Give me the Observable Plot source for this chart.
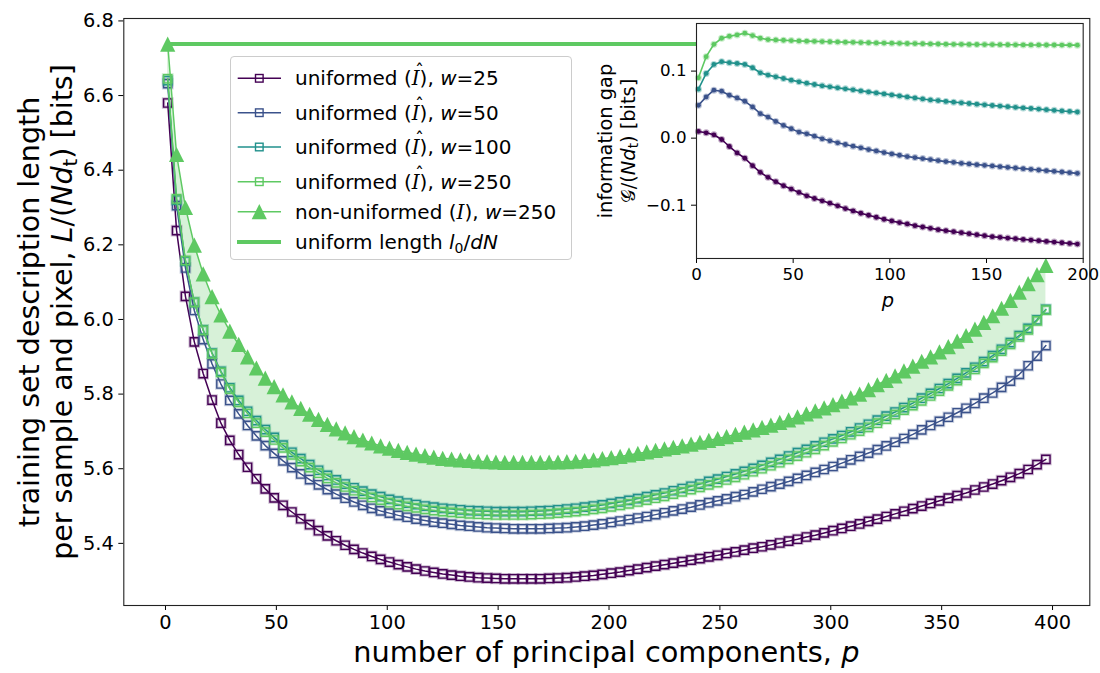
<!DOCTYPE html>
<html><head><meta charset="utf-8">
<script src="https://cdn.jsdelivr.net/npm/d3@7"></script>
<script src="https://cdn.jsdelivr.net/npm/@observablehq/plot@0.6"></script>
<style>
body{margin:0;background:#fff;}
#wrap{position:relative;width:1100px;height:673px;overflow:hidden;font-family:"DejaVu Sans",sans-serif;color:#000;}
.abs{position:absolute;white-space:nowrap;}
sub{font-size:0.7em;vertical-align:-0.25em;line-height:0;}
.cal{font-family:"DejaVu Serif",serif;font-style:italic;}
.hat{position:relative;display:inline-block;}
.hat::after{content:"ˆ";position:absolute;left:0.18em;top:-0.42em;font-size:0.9em;font-style:normal;font-family:"DejaVu Sans";}
#legend{position:absolute;left:230px;top:56px;width:342px;height:204px;box-sizing:border-box;border:1px solid #cccccc;border-radius:4px;background:rgba(255,255,255,0.8);}
#legend .row{position:absolute;left:64px;font-size:20px;line-height:24px;white-space:nowrap;}
</style></head>
<body><div id="wrap"></div>
<script>
// ---------- data ----------
const pMain = d3.range(1, 398, 4);            // p = 1, 5, ..., 397
const pInset = d3.range(1, 198, 4);           // p = 1, 5, ..., 197
const xTicks = [0, 50, 100, 150, 200, 250, 300, 350, 400];
const yTicks = [5.4, 5.6, 5.8, 6.0, 6.2, 6.4, 6.6, 6.8];
const insetXTicks = [0, 50, 100, 150, 200];
const insetYTicks = [-0.1, 0.0, 0.1];
const uniformLength = 6.738;

const uniformed25 = [
 6.580,6.238,6.062,5.940,5.855,5.784,5.722,5.676,5.638,5.604,
 5.573,5.546,5.522,5.502,5.484,5.466,5.450,5.434,5.420,5.407,
 5.395,5.384,5.374,5.365,5.357,5.350,5.343,5.337,5.331,5.326,
 5.322,5.318,5.315,5.312,5.310,5.308,5.307,5.306,5.305,5.305,
 5.305,5.305,5.305,5.306,5.307,5.308,5.310,5.312,5.314,5.317,
 5.320,5.323,5.327,5.331,5.335,5.339,5.343,5.347,5.351,5.355,
 5.359,5.364,5.368,5.373,5.377,5.382,5.387,5.391,5.396,5.401,
 5.406,5.411,5.417,5.422,5.428,5.434,5.440,5.446,5.452,5.459,
 5.465,5.472,5.479,5.486,5.493,5.500,5.507,5.514,5.521,5.528,
 5.535,5.543,5.551,5.559,5.568,5.577,5.587,5.598,5.611,5.625];
const uniformed50 = [
 6.632,6.305,6.138,6.024,5.946,5.881,5.827,5.783,5.747,5.716,
 5.688,5.662,5.641,5.621,5.603,5.586,5.571,5.557,5.544,5.532,
 5.521,5.511,5.502,5.494,5.487,5.481,5.475,5.470,5.465,5.461,
 5.457,5.454,5.451,5.448,5.446,5.444,5.442,5.441,5.440,5.439,
 5.439,5.439,5.439,5.440,5.441,5.442,5.444,5.446,5.449,5.452,
 5.456,5.460,5.464,5.468,5.472,5.477,5.482,5.487,5.492,5.497,
 5.503,5.509,5.514,5.519,5.525,5.531,5.538,5.545,5.552,5.559,
 5.566,5.574,5.582,5.590,5.598,5.606,5.615,5.624,5.633,5.642,
 5.651,5.661,5.671,5.681,5.692,5.704,5.716,5.727,5.738,5.750,
 5.762,5.775,5.789,5.803,5.818,5.835,5.853,5.876,5.902,5.930];
const uniformed100 = [
 6.640,6.320,6.156,6.046,5.972,5.910,5.861,5.817,5.783,5.754,
 5.729,5.705,5.684,5.663,5.644,5.627,5.611,5.596,5.582,5.570,
 5.559,5.549,5.540,5.532,5.525,5.518,5.513,5.508,5.504,5.500,
 5.497,5.494,5.492,5.490,5.488,5.487,5.486,5.485,5.485,5.485,
 5.485,5.486,5.487,5.488,5.490,5.492,5.494,5.497,5.500,5.503,
 5.507,5.511,5.515,5.520,5.525,5.530,5.535,5.541,5.547,5.553,
 5.559,5.566,5.572,5.579,5.586,5.593,5.601,5.609,5.617,5.625,
 5.634,5.643,5.652,5.661,5.671,5.680,5.689,5.699,5.709,5.719,
 5.730,5.741,5.752,5.764,5.776,5.789,5.802,5.815,5.828,5.842,
 5.857,5.872,5.887,5.903,5.920,5.938,5.957,5.976,5.999,6.027];
const uniformed250 = [
 6.645,6.323,6.158,6.046,5.971,5.908,5.858,5.813,5.778,5.748,
 5.722,5.698,5.677,5.656,5.637,5.619,5.603,5.588,5.574,5.562,
 5.551,5.541,5.532,5.523,5.516,5.509,5.504,5.499,5.495,5.491,
 5.488,5.485,5.483,5.481,5.479,5.478,5.477,5.476,5.476,5.476,
 5.476,5.477,5.478,5.479,5.481,5.483,5.485,5.488,5.491,5.494,
 5.498,5.502,5.506,5.511,5.516,5.521,5.526,5.532,5.538,5.544,
 5.550,5.557,5.563,5.570,5.577,5.584,5.592,5.600,5.608,5.616,
 5.625,5.634,5.643,5.652,5.662,5.672,5.681,5.691,5.701,5.711,
 5.722,5.733,5.745,5.757,5.769,5.782,5.795,5.808,5.822,5.836,
 5.851,5.866,5.882,5.898,5.915,5.933,5.953,5.972,5.996,6.025];
const nonUniformed250 = [
 6.738,6.442,6.300,6.199,6.122,6.061,6.012,5.969,5.933,5.900,
 5.870,5.843,5.820,5.798,5.779,5.762,5.746,5.732,5.719,5.707,
 5.696,5.686,5.677,5.669,5.661,5.655,5.649,5.644,5.639,5.635,
 5.631,5.628,5.626,5.624,5.622,5.620,5.619,5.618,5.617,5.617,
 5.617,5.617,5.617,5.618,5.618,5.619,5.620,5.622,5.624,5.627,
 5.630,5.633,5.637,5.641,5.645,5.649,5.653,5.657,5.661,5.666,
 5.671,5.676,5.681,5.686,5.692,5.698,5.704,5.711,5.717,5.724,
 5.731,5.739,5.747,5.755,5.763,5.772,5.781,5.790,5.800,5.812,
 5.825,5.837,5.849,5.862,5.875,5.888,5.900,5.913,5.927,5.942,
 5.957,5.974,5.992,6.010,6.030,6.051,6.073,6.096,6.120,6.145];

const gap25 = [
 0.010,0.008,0.005,-0.002,-0.0125,-0.022,-0.030,-0.041,-0.051,-0.0585,
 -0.065,-0.071,-0.076,-0.081,-0.086,-0.090,-0.0935,-0.097,-0.101,-0.105,
 -0.1085,-0.112,-0.115,-0.118,-0.121,-0.1235,-0.126,-0.128,-0.1305,-0.1325,
 -0.1345,-0.1365,-0.138,-0.1395,-0.141,-0.1425,-0.144,-0.1455,-0.147,-0.148,
 -0.149,-0.150,-0.151,-0.152,-0.153,-0.154,-0.155,-0.156,-0.157,-0.158];
const gap50 = [
 0.049,0.0615,0.0715,0.070,0.064,0.060,0.055,0.0465,0.0365,0.0315,
 0.025,0.019,0.014,0.009,0.0065,0.003,-0.001,-0.004,-0.007,-0.0095,
 -0.012,-0.0145,-0.017,-0.019,-0.0215,-0.0235,-0.0255,-0.0275,-0.029,-0.0305,
 -0.032,-0.0335,-0.035,-0.036,-0.0375,-0.0385,-0.0395,-0.0405,-0.0415,-0.0425,
 -0.0435,-0.0445,-0.0455,-0.0465,-0.0475,-0.0485,-0.0495,-0.0505,-0.0515,-0.0525];
const gap100 = [
 0.073,0.0965,0.110,0.114,0.1125,0.1115,0.110,0.105,0.0975,0.094,
 0.0915,0.089,0.0865,0.084,0.082,0.080,0.078,0.0765,0.075,0.0735,
 0.072,0.0705,0.069,0.0675,0.066,0.0645,0.063,0.0615,0.060,0.0585,
 0.057,0.056,0.0548,0.0537,0.0527,0.0517,0.0507,0.0497,0.0487,0.0478,
 0.0469,0.046,0.0451,0.0442,0.0433,0.0424,0.0415,0.0406,0.0398,0.039];
const gap250 = [
 0.090,0.1215,0.140,0.149,0.152,0.154,0.1565,0.153,0.149,0.147,
 0.1465,0.146,0.1455,0.145,0.1447,0.1444,0.1441,0.1438,0.1435,0.1432,
 0.1429,0.1426,0.1423,0.142,0.1418,0.1416,0.1414,0.1412,0.141,0.1408,
 0.1406,0.1404,0.1402,0.140,0.1399,0.1398,0.1397,0.1396,0.1395,0.1394,
 0.1393,0.1392,0.1391,0.139,0.139,0.1389,0.1389,0.1388,0.1388,0.1387];

const seriesNames = ["w25","w50","w100","w250"];
const colors = {w25:"#440154", w50:"#3b528b", w100:"#21918c", w250:"#5ec962"};
const green = "#5ec962";

// ---------- tables ----------
const rows = pMain.map((p,i)=>({p, w25:uniformed25[i], w50:uniformed50[i], w100:uniformed100[i], w250:uniformed250[i], tri:nonUniformed250[i]}));
const insetRows = pInset.map((p,i)=>({p, w25:gap25[i], w50:gap50[i], w100:gap100[i], w250:gap250[i]}));

// custom matplotlib-like symbols (bbox centred)
const sqSym = {draw(ctx,size){const h=Math.sqrt(size/Math.PI);ctx.moveTo(-h,-h);ctx.lineTo(h,-h);ctx.lineTo(h,h);ctx.lineTo(-h,h);ctx.closePath();}};
const triSym = {draw(ctx,size){const h=Math.sqrt(size/Math.PI);ctx.moveTo(0,-h);ctx.lineTo(h,h);ctx.lineTo(-h,h);ctx.closePath();}};

const seriesMarks = [];
for (const s of seriesNames) {
  seriesMarks.push(Plot.line(rows, {x:"p", y:s, stroke:colors[s], strokeWidth:1.5}));
  seriesMarks.push(Plot.dot(rows, {x:"p", y:s, symbol:sqSym, r:4.15, fill:"none", stroke:colors[s], strokeWidth:3.4, strokeOpacity:0.25}));
  seriesMarks.push(Plot.dot(rows, {x:"p", y:s, symbol:sqSym, r:4.15, fill:"none", stroke:colors[s], strokeWidth:1.4}));
}

const main = Plot.plot({
  width:1100, height:673,
  marginLeft:123.3, marginRight:10.7, marginTop:18, marginBottom:68,
  style:{fontFamily:"DejaVu Sans", fontSize:"19.4px", background:"transparent", color:"black"},
  x:{domain:[-18.8,416.8], ticks:xTicks, tickSize:5, tickPadding:5, tickFormat:d=>String(d), label:null},
  y:{domain:[5.2335,6.8065], ticks:yTicks, tickSize:5, tickPadding:5, tickFormat:d3.format(".1f"), label:null},
  marks:[
    Plot.areaY(rows, {x:"p", y1:"w250", y2:"tri", fill:green, fillOpacity:0.25}),
    ...seriesMarks,
    Plot.line(rows, {x:"p", y:"tri", stroke:green, strokeWidth:1.5}),
    Plot.dot(rows, {x:"p", y:"tri", symbol:triSym, r:7.6, fill:green, stroke:"none"}),
    Plot.ruleY([uniformLength], {x1:pMain[0], x2:pMain[pMain.length-1], stroke:green, strokeWidth:4}),
    Plot.frame({stroke:"#222", strokeWidth:1.1})
  ]
});
main.style.position="absolute"; main.style.left="0px"; main.style.top="0px";

const insetMarks = [Plot.frame({fill:"white", stroke:"none"})];
for (const s of seriesNames) {
  insetMarks.push(Plot.line(insetRows, {x:"p", y:s, stroke:colors[s], strokeWidth:1.6}));
  insetMarks.push(Plot.dot(insetRows, {x:"p", y:s, r:2.4, fill:colors[s], stroke:colors[s], strokeWidth:2.2, strokeOpacity:0.35}));
}
insetMarks.push(Plot.frame({stroke:"#222", strokeWidth:1.1}));

const inset = Plot.plot({
  width:513.7, height:299,
  marginLeft:110, marginRight:17, marginTop:4, marginBottom:60,
  style:{fontFamily:"DejaVu Sans", fontSize:"16.7px", background:"transparent", color:"black", overflow:"visible"},
  x:{domain:[0,200], ticks:insetXTicks, tickSize:5, tickPadding:5, tickFormat:d=>String(d), label:null},
  y:{domain:[-0.1795,0.171], ticks:insetYTicks, tickSize:5, tickPadding:5, tickFormat:d3.format(".1f"), label:null},
  marks:insetMarks
});
inset.style.position="absolute"; inset.style.left="586px"; inset.style.top="19.3px";

const wrap = document.getElementById("wrap");
wrap.appendChild(main);

// ---------- legend ----------
const calI = '<span class="cal">I</span>';
const legendItems = [
  {html:`uniformed (<span class="hat cal">I</span>), <i>w</i>=25`, color:colors.w25, kind:"sq", cy:21.3},
  {html:`uniformed (<span class="hat cal">I</span>), <i>w</i>=50`, color:colors.w50, kind:"sq", cy:55.7},
  {html:`uniformed (<span class="hat cal">I</span>), <i>w</i>=100`, color:colors.w100, kind:"sq", cy:90},
  {html:`uniformed (<span class="hat cal">I</span>), <i>w</i>=250`, color:colors.w250, kind:"sq", cy:124.7},
  {html:`non-uniformed (${calI}), <i>w</i>=250`, color:green, kind:"tri", cy:154.7},
  {html:'uniform length <i>l</i><sub>0</sub>/<i>dN</i>', color:green, kind:"hline", cy:185}
];
const legend = document.createElement("div");
legend.id = "legend";
let svg = '<svg width="342" height="204" style="position:absolute;left:0;top:0;overflow:visible">';
for (const it of legendItems) {
  if (it.kind==="hline") {
    svg += `<line x1="6" x2="50" y1="${it.cy}" y2="${it.cy}" stroke="${it.color}" stroke-width="4"/>`;
  } else {
    svg += `<line x1="6.7" x2="50" y1="${it.cy}" y2="${it.cy}" stroke="${it.color}" stroke-width="1.5"/>`;
    if (it.kind==="sq") svg += `<rect x="${28.3-3.8}" y="${it.cy-3.8}" width="7.6" height="7.6" fill="none" stroke="${it.color}" stroke-width="1.4"/>`;
    else svg += `<path d="M28.3,${it.cy-7.6}L35.9,${it.cy+7.6}L20.7,${it.cy+7.6}Z" fill="${it.color}"/>`;
  }
}
svg += '</svg>';
legend.innerHTML = svg + legendItems.map(it=>`<div class="row" style="top:${it.cy-12}px">${it.html}</div>`).join("");
wrap.appendChild(legend);

wrap.appendChild(inset);

// ---------- axis labels ----------
function addLabel(html, style){const d=document.createElement("div");d.className="abs";d.innerHTML=html;Object.assign(d.style,style);wrap.appendChild(d);}
addLabel('training set description length<br>per sample and pixel, <i>L</i>/(<i>Nd</i><sub>t</sub>) [bits]',
  {left:"-234px", top:"278.5px", width:"560px", height:"66px", transform:"rotate(-90deg)", textAlign:"center", fontSize:"28.5px", lineHeight:"33px"});
addLabel('number of principal components, <i>p</i>',
  {left:"206.3px", top:"635px", width:"800px", textAlign:"center", fontSize:"28.8px", lineHeight:"34px"});
addLabel('information gap<br>𝒢/(<i>Nd</i><sub>t</sub>) [bits]',
  {left:"486.5px", top:"118px", width:"260px", height:"46px", transform:"rotate(-90deg)", textAlign:"center", fontSize:"19.4px", lineHeight:"23px"});
addLabel('<i>p</i>', {left:"788px", top:"289px", width:"200px", textAlign:"center", fontSize:"19.4px", lineHeight:"24px"});
</script>
</body></html>
